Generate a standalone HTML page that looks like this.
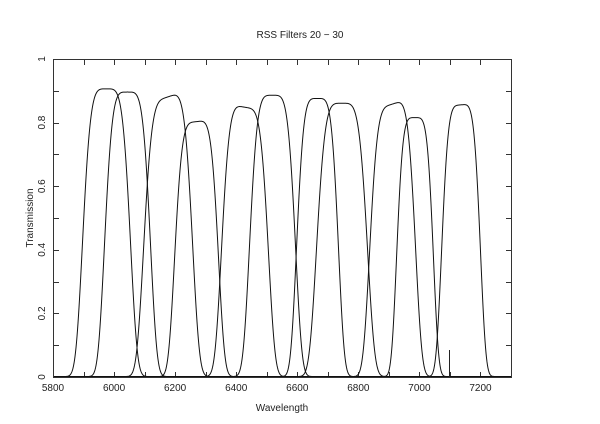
<!DOCTYPE html>
<html><head><meta charset="utf-8"><style>
html,body{margin:0;padding:0;background:#fff;}
svg{display:block;font-family:"Liberation Sans",sans-serif;}
</style></head><body>
<svg id="s" width="600" height="424" viewBox="0 0 600 424" xmlns="http://www.w3.org/2000/svg">
<rect width="600" height="424" fill="#fff"/>
<text x="300" y="38" font-size="10" text-anchor="middle" fill="#222">RSS Filters 20 − 30</text>
<text x="282" y="411" font-size="10" text-anchor="middle" fill="#222">Wavelength</text>
<text transform="translate(33,218) rotate(-90)" font-size="10" text-anchor="middle" fill="#222">Transmission</text>
<g id="ax" stroke="#333" stroke-width="1" fill="none">
<rect x="53.5" y="59.5" width="458" height="318"/>
</g>
<g id="lab" font-size="10" fill="#222"></g>
<g id="cv" stroke="#111" stroke-width="1" fill="none"></g>
<line x1="449.5" y1="377" x2="449.5" y2="350" stroke="#222" stroke-width="1"/>
</svg>
<script>
var NS="http://www.w3.org/2000/svg";
function el(p,t,a,txt){var e=document.createElementNS(NS,t);for(var k in a)e.setAttribute(k,a[k]);if(txt!==undefined)e.textContent=txt;document.getElementById(p).appendChild(e);}
function X(w){return 53+(w-5800)*458/1500;}
function Y(v){return 377-v*318;}
var d="";
for(var w=5900;w<7300;w+=100){var x=Math.round(X(w))+0.5;d+="M"+x+" 377V372M"+x+" 60V65";}
for(var i=1;i<10;i++){var y=Math.round(Y(i/10))+0.5;d+="M54 "+y+"H59M511 "+y+"H506";}
el("ax","path",{d:d});
for(var w=5800;w<=7200;w+=200)el("lab","text",{x:X(w),y:391,"text-anchor":"middle"},String(w));
var yl=[[0,"0"],[0.2,"0.2"],[0.4,"0.4"],[0.6,"0.6"],[0.8,"0.8"],[1,"1"]];
yl.forEach(function(p){var y=Y(p[0]);el("lab","text",{transform:"translate(45,"+y+") rotate(-90)","text-anchor":"middle"},p[1]);});
var F=[[83,130,0.9,0.9],[105,150,0.89,0.89],[144,192,0.85,0.9],[175,218,0.79,0.805],
[222,268,0.855,0.83],[250,295,0.88,0.88],[297,338,0.87,0.87],[317,367,0.855,0.855],
[370,415,0.83,0.875],[397,433,0.81,0.81],[442,480,0.845,0.855]];
F.forEach(function(f){var c=(f[0]+f[1])/2,h=(f[1]-f[0])/2,s="";
for(var x=54;x<=511;x+=0.5){var u=Math.abs((x-c)/h);var t=(x-f[0])/(f[1]-f[0]);t=Math.max(0,Math.min(1,t));
var a=(f[2]+(f[3]-f[2])*t)*1.005;var v=a*Math.exp(-0.6931*Math.pow(u,4.6));s+=(s?"L":"M")+x+" "+(Y(v)-0.5).toFixed(2);}
el("cv","path",{d:s});});
</script>
</body></html>
